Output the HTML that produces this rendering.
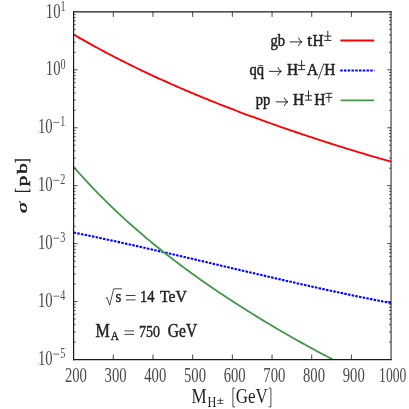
<!DOCTYPE html>
<html><head><meta charset="utf-8"><title>plot</title>
<style>html,body{margin:0;padding:0;background:#fff;overflow:hidden}svg{display:block;will-change:transform}</style>
</head><body>
<svg width="409" height="409" viewBox="0 0 409 409">
<rect width="409" height="409" fill="#fff"/>
<g fill="none" stroke-linejoin="round">
<path d="M73.6 34.52 L76.27 36.07 L78.94 37.61 L81.6 39.13 L84.27 40.65 L86.94 42.15 L89.61 43.64 L92.28 45.11 L94.94 46.58 L97.61 48.03 L100.28 49.47 L102.95 50.9 L105.62 52.32 L108.28 53.72 L110.95 55.12 L113.62 56.51 L116.29 57.88 L118.96 59.24 L121.63 60.6 L124.29 61.94 L126.96 63.28 L129.63 64.6 L132.3 65.91 L134.97 67.22 L137.63 68.51 L140.3 69.8 L142.97 71.07 L145.64 72.34 L148.31 73.59 L150.97 74.84 L153.64 76.08 L156.31 77.31 L158.98 78.54 L161.65 79.75 L164.31 80.96 L166.98 82.15 L169.65 83.34 L172.32 84.52 L174.99 85.7 L177.65 86.86 L180.32 88.02 L182.99 89.17 L185.66 90.31 L188.33 91.45 L190.99 92.58 L193.66 93.7 L196.33 94.81 L199 95.92 L201.67 97.02 L204.34 98.12 L207 99.2 L209.67 100.28 L212.34 101.36 L215.01 102.42 L217.68 103.49 L220.34 104.54 L223.01 105.59 L225.68 106.63 L228.35 107.67 L231.02 108.7 L233.68 109.73 L236.35 110.75 L239.02 111.76 L241.69 112.77 L244.36 113.77 L247.02 114.77 L249.69 115.76 L252.36 116.74 L255.03 117.73 L257.7 118.7 L260.36 119.67 L263.03 120.64 L265.7 121.6 L268.37 122.55 L271.04 123.5 L273.71 124.45 L276.37 125.39 L279.04 126.33 L281.71 127.26 L284.38 128.18 L287.05 129.1 L289.71 130.02 L292.38 130.93 L295.05 131.84 L297.72 132.75 L300.39 133.65 L303.05 134.54 L305.72 135.43 L308.39 136.32 L311.06 137.2 L313.73 138.07 L316.39 138.95 L319.06 139.82 L321.73 140.68 L324.4 141.54 L327.07 142.4 L329.73 143.25 L332.4 144.09 L335.07 144.94 L337.74 145.78 L340.41 146.61 L343.07 147.44 L345.74 148.27 L348.41 149.09 L351.08 149.91 L353.75 150.73 L356.42 151.54 L359.08 152.34 L361.75 153.14 L364.42 153.94 L367.09 154.74 L369.76 155.53 L372.42 156.31 L375.09 157.09 L377.76 157.87 L380.43 158.64 L383.1 159.41 L385.76 160.18 L388.43 160.94 L391.1 161.69" stroke="#ff0000" stroke-width="1.85"/>
<path d="M73.6 232.53 L76.27 233.07 L78.94 233.62 L81.6 234.16 L84.27 234.72 L86.94 235.27 L89.61 235.83 L92.28 236.39 L94.94 236.95 L97.61 237.51 L100.28 238.08 L102.95 238.65 L105.62 239.23 L108.28 239.8 L110.95 240.38 L113.62 240.96 L116.29 241.54 L118.96 242.13 L121.63 242.71 L124.29 243.3 L126.96 243.89 L129.63 244.49 L132.3 245.08 L134.97 245.68 L137.63 246.28 L140.3 246.88 L142.97 247.48 L145.64 248.09 L148.31 248.69 L150.97 249.3 L153.64 249.91 L156.31 250.52 L158.98 251.13 L161.65 251.74 L164.31 252.36 L166.98 252.97 L169.65 253.59 L172.32 254.21 L174.99 254.82 L177.65 255.44 L180.32 256.06 L182.99 256.69 L185.66 257.31 L188.33 257.93 L190.99 258.55 L193.66 259.18 L196.33 259.8 L199 260.43 L201.67 261.05 L204.34 261.68 L207 262.31 L209.67 262.93 L212.34 263.56 L215.01 264.19 L217.68 264.81 L220.34 265.44 L223.01 266.07 L225.68 266.7 L228.35 267.32 L231.02 267.95 L233.68 268.58 L236.35 269.2 L239.02 269.83 L241.69 270.45 L244.36 271.08 L247.02 271.7 L249.69 272.33 L252.36 272.95 L255.03 273.57 L257.7 274.2 L260.36 274.82 L263.03 275.44 L265.7 276.06 L268.37 276.68 L271.04 277.29 L273.71 277.91 L276.37 278.52 L279.04 279.14 L281.71 279.75 L284.38 280.36 L287.05 280.97 L289.71 281.58 L292.38 282.19 L295.05 282.79 L297.72 283.4 L300.39 284 L303.05 284.6 L305.72 285.2 L308.39 285.79 L311.06 286.39 L313.73 286.98 L316.39 287.57 L319.06 288.16 L321.73 288.75 L324.4 289.33 L327.07 289.91 L329.73 290.49 L332.4 291.07 L335.07 291.64 L337.74 292.22 L340.41 292.79 L343.07 293.35 L345.74 293.92 L348.41 294.48 L351.08 295.04 L353.75 295.6 L356.42 296.15 L359.08 296.7 L361.75 297.25 L364.42 297.79 L367.09 298.33 L369.76 298.87 L372.42 299.4 L375.09 299.94 L377.76 300.46 L380.43 300.99 L383.1 301.51 L385.76 302.03 L388.43 302.54 L391.1 303.05" stroke="#0000ff" stroke-width="2.1" stroke-dasharray="2.5 1.25"/>
<path d="M73.6 166.92 L75.78 169.4 L77.95 171.84 L80.13 174.27 L82.31 176.66 L84.49 179.04 L86.66 181.39 L88.84 183.72 L91.02 186.02 L93.2 188.31 L95.37 190.57 L97.55 192.81 L99.73 195.03 L101.91 197.22 L104.08 199.4 L106.26 201.56 L108.44 203.69 L110.61 205.81 L112.79 207.91 L114.97 209.99 L117.15 212.05 L119.32 214.09 L121.5 216.11 L123.68 218.12 L125.86 220.1 L128.03 222.07 L130.21 224.03 L132.39 225.97 L134.56 227.89 L136.74 229.79 L138.92 231.68 L141.1 233.55 L143.27 235.41 L145.45 237.25 L147.63 239.08 L149.81 240.9 L151.98 242.7 L154.16 244.48 L156.34 246.26 L158.52 248.01 L160.69 249.76 L162.87 251.49 L165.05 253.21 L167.22 254.92 L169.4 256.61 L171.58 258.3 L173.76 259.97 L175.93 261.63 L178.11 263.27 L180.29 264.91 L182.47 266.53 L184.64 268.15 L186.82 269.75 L189 271.35 L191.17 272.93 L193.35 274.5 L195.53 276.06 L197.71 277.62 L199.88 279.16 L202.06 280.69 L204.24 282.22 L206.42 283.73 L208.59 285.24 L210.77 286.74 L212.95 288.23 L215.13 289.71 L217.3 291.18 L219.48 292.64 L221.66 294.1 L223.83 295.55 L226.01 296.99 L228.19 298.42 L230.37 299.84 L232.54 301.26 L234.72 302.67 L236.9 304.07 L239.08 305.46 L241.25 306.85 L243.43 308.23 L245.61 309.61 L247.78 310.97 L249.96 312.33 L252.14 313.69 L254.32 315.03 L256.49 316.38 L258.67 317.71 L260.85 319.04 L263.03 320.36 L265.2 321.67 L267.38 322.98 L269.56 324.28 L271.74 325.58 L273.91 326.87 L276.09 328.16 L278.27 329.43 L280.44 330.71 L282.62 331.97 L284.8 333.23 L286.98 334.49 L289.15 335.74 L291.33 336.98 L293.51 338.22 L295.69 339.45 L297.86 340.67 L300.04 341.89 L302.22 343.1 L304.39 344.31 L306.57 345.51 L308.75 346.71 L310.93 347.9 L313.1 349.08 L315.28 350.26 L317.46 351.43 L319.64 352.6 L321.81 353.76 L323.99 354.91 L326.17 356.06 L328.35 357.2 L330.52 358.33 L332.7 359.46" stroke="#42964a" stroke-width="1.8"/>
</g>
<g fill="none" stroke="#333">
<path d="M113.29 359.5 v-5 M113.29 11.9 v5 M152.97 359.5 v-5 M152.97 11.9 v5 M192.66 359.5 v-5 M192.66 11.9 v5 M232.35 359.5 v-5 M232.35 11.9 v5 M272.04 359.5 v-5 M272.04 11.9 v5 M311.73 359.5 v-5 M311.73 11.9 v5 M351.41 359.5 v-5 M351.41 11.9 v5" stroke-width="0.9"/>
<path d="M73.6 69.83 h3.9 M391.1 69.83 h-3.9 M73.6 127.77 h3.9 M391.1 127.77 h-3.9 M73.6 185.7 h3.9 M391.1 185.7 h-3.9 M73.6 243.63 h3.9 M391.1 243.63 h-3.9 M73.6 301.57 h3.9 M391.1 301.57 h-3.9" stroke-width="0.9"/>
<path d="M73.6 52.39 h2.1 M391.1 52.39 h-2.1 M73.6 42.19 h2.1 M391.1 42.19 h-2.1 M73.6 34.95 h2.1 M391.1 34.95 h-2.1 M73.6 29.34 h2.1 M391.1 29.34 h-2.1 M73.6 24.75 h2.1 M391.1 24.75 h-2.1 M73.6 20.87 h2.1 M391.1 20.87 h-2.1 M73.6 17.51 h2.1 M391.1 17.51 h-2.1 M73.6 14.55 h2.1 M391.1 14.55 h-2.1 M73.6 110.33 h2.1 M391.1 110.33 h-2.1 M73.6 100.13 h2.1 M391.1 100.13 h-2.1 M73.6 92.89 h2.1 M391.1 92.89 h-2.1 M73.6 87.27 h2.1 M391.1 87.27 h-2.1 M73.6 82.69 h2.1 M391.1 82.69 h-2.1 M73.6 78.81 h2.1 M391.1 78.81 h-2.1 M73.6 75.45 h2.1 M391.1 75.45 h-2.1 M73.6 72.48 h2.1 M391.1 72.48 h-2.1 M73.6 168.26 h2.1 M391.1 168.26 h-2.1 M73.6 158.06 h2.1 M391.1 158.06 h-2.1 M73.6 150.82 h2.1 M391.1 150.82 h-2.1 M73.6 145.21 h2.1 M391.1 145.21 h-2.1 M73.6 140.62 h2.1 M391.1 140.62 h-2.1 M73.6 136.74 h2.1 M391.1 136.74 h-2.1 M73.6 133.38 h2.1 M391.1 133.38 h-2.1 M73.6 130.42 h2.1 M391.1 130.42 h-2.1 M73.6 226.19 h2.1 M391.1 226.19 h-2.1 M73.6 215.99 h2.1 M391.1 215.99 h-2.1 M73.6 208.75 h2.1 M391.1 208.75 h-2.1 M73.6 203.14 h2.1 M391.1 203.14 h-2.1 M73.6 198.55 h2.1 M391.1 198.55 h-2.1 M73.6 194.67 h2.1 M391.1 194.67 h-2.1 M73.6 191.31 h2.1 M391.1 191.31 h-2.1 M73.6 188.35 h2.1 M391.1 188.35 h-2.1 M73.6 284.13 h2.1 M391.1 284.13 h-2.1 M73.6 273.93 h2.1 M391.1 273.93 h-2.1 M73.6 266.69 h2.1 M391.1 266.69 h-2.1 M73.6 261.07 h2.1 M391.1 261.07 h-2.1 M73.6 256.49 h2.1 M391.1 256.49 h-2.1 M73.6 252.61 h2.1 M391.1 252.61 h-2.1 M73.6 249.25 h2.1 M391.1 249.25 h-2.1 M73.6 246.28 h2.1 M391.1 246.28 h-2.1 M73.6 342.06 h2.1 M391.1 342.06 h-2.1 M73.6 331.86 h2.1 M391.1 331.86 h-2.1 M73.6 324.62 h2.1 M391.1 324.62 h-2.1 M73.6 319.01 h2.1 M391.1 319.01 h-2.1 M73.6 314.42 h2.1 M391.1 314.42 h-2.1 M73.6 310.54 h2.1 M391.1 310.54 h-2.1 M73.6 307.18 h2.1 M391.1 307.18 h-2.1 M73.6 304.22 h2.1 M391.1 304.22 h-2.1" stroke-width="0.8"/>
</g>
<g fill="none" stroke="#1a1a1a">
<path d="M73.6 11.35V360.15" stroke-width="1.2"/>
<path d="M391.05 11.35V360.15" stroke-width="1.0"/>
<path d="M73 11.9H391.6" stroke-width="1.1"/>
<path d="M73 359.55H391.6" stroke-width="1.2"/>
</g>
<g font-family="'Liberation Serif', serif" fill="#4a4a4a">
<text transform="translate(75.9 381.6) scale(0.7 1)" font-size="21" text-anchor="middle">200</text>
<text transform="translate(115.59 381.6) scale(0.7 1)" font-size="21" text-anchor="middle">300</text>
<text transform="translate(155.28 381.6) scale(0.7 1)" font-size="21" text-anchor="middle">400</text>
<text transform="translate(194.96 381.6) scale(0.7 1)" font-size="21" text-anchor="middle">500</text>
<text transform="translate(234.65 381.6) scale(0.7 1)" font-size="21" text-anchor="middle">600</text>
<text transform="translate(274.34 381.6) scale(0.7 1)" font-size="21" text-anchor="middle">700</text>
<text transform="translate(314.03 381.6) scale(0.7 1)" font-size="21" text-anchor="middle">800</text>
<text transform="translate(353.71 381.6) scale(0.7 1)" font-size="21" text-anchor="middle">900</text>
<text transform="translate(392.7 381.6) scale(0.65 1)" font-size="21" text-anchor="middle">1000</text>
<text transform="translate(45.8 17.5) scale(0.7 1)" font-size="21">10</text>
<text transform="translate(60.6 10.6) scale(0.7 1)" font-size="14.5">1</text>
<text transform="translate(45.8 75.43) scale(0.7 1)" font-size="21">10</text>
<text transform="translate(60.6 68.53) scale(0.7 1)" font-size="14.5">0</text>
<text transform="translate(37.9 133.37) scale(0.7 1)" font-size="21">10</text>
<path d="M53.4 122.37 h6" stroke="#4a4a4a" stroke-width="0.8" fill="none"/>
<text transform="translate(60.3 126.47) scale(0.7 1)" font-size="14.5">1</text>
<text transform="translate(37.9 191.3) scale(0.7 1)" font-size="21">10</text>
<path d="M53.4 180.3 h6" stroke="#4a4a4a" stroke-width="0.8" fill="none"/>
<text transform="translate(60.3 184.4) scale(0.7 1)" font-size="14.5">2</text>
<text transform="translate(37.9 249.23) scale(0.7 1)" font-size="21">10</text>
<path d="M53.4 238.23 h6" stroke="#4a4a4a" stroke-width="0.8" fill="none"/>
<text transform="translate(60.3 242.33) scale(0.7 1)" font-size="14.5">3</text>
<text transform="translate(37.9 307.17) scale(0.7 1)" font-size="21">10</text>
<path d="M53.4 296.17 h6" stroke="#4a4a4a" stroke-width="0.8" fill="none"/>
<text transform="translate(60.3 300.27) scale(0.7 1)" font-size="14.5">4</text>
<text transform="translate(37.9 365.1) scale(0.7 1)" font-size="21">10</text>
<path d="M53.4 354.1 h6" stroke="#4a4a4a" stroke-width="0.8" fill="none"/>
<text transform="translate(60.3 358.2) scale(0.7 1)" font-size="14.5">5</text>
</g><g font-family="'Liberation Serif', serif" fill="#222" stroke="#222" stroke-width="0">
<path d="M14.9 160H30.3M14.9 191.4H30.3" fill="none" stroke-width="1.3"/>
<path d="M15.3 159.4V162.7M29.9 159.4V162.7M15.3 192V188.6M29.9 192V188.6" fill="none" stroke-width="0.9"/>
<g transform="translate(27.0 0) scale(0.8 1)" font-weight="bold">
<text transform="translate(0 186.3) rotate(-90) scale(1.14 1)" font-size="18.5" font-weight="normal" stroke-width="0.6">p</text>
<text transform="translate(0 173.7) rotate(-90) scale(1.14 1)" font-size="18.5" font-weight="normal" stroke-width="0.6">b</text>
<text transform="translate(0 213.4) rotate(-90) scale(1.18 1)" font-size="19" font-style="italic">σ</text>
</g>
<text transform="translate(191.5 403) scale(0.85 1)" font-size="20">M</text>
<text transform="translate(207.4 406.7) scale(0.9 1)" font-size="13.6">H</text>
<path d="M217.2 400.4h6.2M220.3 397.9v5.4M217.2 403.4h6.2" fill="none" stroke-width="0.75"/>
<text transform="translate(235.7 403) scale(0.85 1)" font-size="20">GeV</text>
<path d="M235.2 388.1H232.9V406.9H235.2M268.6 388.1H270.9V406.9H268.6" fill="none" stroke-width="0.8"/>
<g stroke-width="0.45">
<path d="M105.6 298.6 l1.5 -1.1 l2.6 7.6 l4.0 -16.3 h8.4" fill="none" stroke-width="0.8" stroke-linejoin="miter"/>
<text transform="translate(115.6 302.2) scale(0.85 1)" font-size="17.5">s</text>
<path d="M125.9 295.5h9.6M125.9 299.9h9.6" fill="none" stroke-width="0.85"/>
<text transform="translate(139.9 302.2) scale(0.83 1)" font-size="17.5">14</text>
<text transform="translate(160.0 302.2) scale(0.90 1)" font-size="17.5">TeV</text>
<text transform="translate(95.6 337.1) scale(0.87 1)" font-size="18.5">M</text>
<text transform="translate(110.8 339.7) scale(0.85 1)" font-size="13.2">A</text>
<path d="M124.5 330.9h9.5M124.5 334.4h9.5" fill="none" stroke-width="0.85"/>
<text transform="translate(138.9 337.1) scale(0.80 1)" font-size="17.5">750</text>
<text transform="translate(167.8 337.1) scale(0.84 1)" font-size="18.5">GeV</text>
</g>
<g stroke-width="0.5" font-size="16">
<text transform="translate(270.4 45.5) scale(0.91 1)">gb</text>
<path d="M289.8 41.9H301.8M298.4 37.7Q299.2 40.9 302.1 41.9Q299.2 42.9 298.4 46.1" fill="none" stroke-width="0.95"/>
<text transform="translate(307.2 45.5) scale(1.08 1)">t</text>
<text transform="translate(312.6 45.5) scale(0.96 1)">H</text>
<path d="M324.2 36.1h7.2M327.8 30.9v9.5M324.2 40.4h7.2" fill="none" stroke-width="0.95"/>
<text transform="translate(249.6 74.8) scale(0.91 1)">qq</text>
<path d="M258.2 65.6h4.8" fill="none" stroke-width="0.8"/>
<path d="M269 71.35H281.2M277.8 67.15Q278.6 70.35 281.5 71.35Q278.6 72.35 277.8 75.55" fill="none" stroke-width="0.95"/>
<text transform="translate(286.9 74.8) scale(0.96 1)">H</text>
<path d="M298 65.4h7.2M301.6 60.2v9.5M298 69.7h7.2" fill="none" stroke-width="0.95"/>
<text transform="translate(306.9 74.8) scale(0.96 1)">A</text>
<path d="M318.3 79.2L323.9 63.5" fill="none" stroke-width="0.85"/>
<text transform="translate(324.3 74.8) scale(0.96 1)">H</text>
<text transform="translate(255.7 105.2) scale(0.91 1)">pp</text>
<path d="M275.8 101.9H287.7M284.3 97.7Q285.1 100.9 288 101.9Q285.1 102.9 284.3 106.1" fill="none" stroke-width="0.95"/>
<text transform="translate(293.0 105.2) scale(0.96 1)">H</text>
<path d="M304.9 95.8h7.2M308.5 90.6v9.5M304.9 100.1h7.2" fill="none" stroke-width="0.95"/>
<text transform="translate(314.3 105.2) scale(0.96 1)">H</text>
<path d="M325.5 93.3h6.8M328.9 93.3v9M325.5 97.4h6.8" fill="none" stroke-width="0.95"/>
</g>
</g>
<g fill="none">
<path d="M340.4 40.5H374.2" stroke="#ff0000" stroke-width="1.85"/>
<path d="M340.2 70.5H374.5" stroke="#0000ff" stroke-width="2.1" stroke-dasharray="2.5 1.25"/>
<path d="M340.6 100.4H374" stroke="#42964a" stroke-width="1.8"/>
</g>
</svg></body></html>
